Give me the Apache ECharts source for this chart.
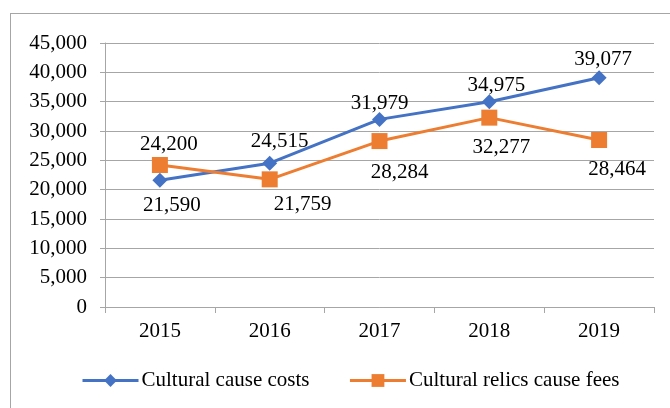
<!DOCTYPE html>
<html><head><meta charset="utf-8">
<script src="https://cdn.jsdelivr.net/npm/echarts@6/dist/echarts.min.js"></script>
<style>html,body{margin:0;padding:0;background:#fff}#c{width:670px;height:408px}
#box{position:absolute;left:10px;top:13px;width:670px;height:400px;border:1px solid #a6a6a6;pointer-events:none}</style>
</head><body><div id="c"></div><div id="box"></div>
<script>
const categories = ['2015','2016','2017','2018','2019'];
const costs = [21590, 24515, 31979, 34975, 39077];
const relics = [24200, 21759, 28284, 32277, 28464];
const costsLabelPos = ['bottom','top','top','top','top'];
const costsLabelOffset = [[12,3],[10,0],[0,6],[7,6],[4,4]];
const relicsLabelPos = ['top','bottom','bottom','bottom','bottom'];
const relicsLabelOffset = [[9,2],[33,3],[20,9],[12,7],[18,7]];
const font = 'Liberation Serif, Times New Roman, serif';
const fmt = v => v.toLocaleString('en-US');
const chart = echarts.init(document.getElementById('c'));
chart.setOption({
  animation:false,
  grid:{left:105,right:16,top:43,bottom:101},
  legend:{bottom:12,left:76,itemWidth:56,itemHeight:16,itemGap:39,
    lineStyle:{width:3},
    textStyle:{fontFamily:font,fontSize:21,color:'#000',padding:[0,0,0,-2]},
    data:['Cultural cause costs','Cultural relics cause fees']},
  xAxis:{type:'category',data:categories,boundaryGap:true,
    axisLine:{lineStyle:{color:'#a6a6a6',width:1}},
    axisTick:{show:true,length:6,lineStyle:{color:'#a6a6a6'}},
    axisLabel:{fontFamily:font,fontSize:21,color:'#000',margin:14}},
  yAxis:{type:'value',min:0,max:45000,interval:5000,
    axisLine:{show:true,lineStyle:{color:'#a6a6a6'}},
    axisTick:{show:true,length:5,inside:false,lineStyle:{color:'#a6a6a6'}},
    splitLine:{lineStyle:{color:'#a6a6a6',width:1}},
    axisLabel:{fontFamily:font,fontSize:21,color:'#000',margin:18,formatter:v=>fmt(v)}},
  series:[
    {name:'Cultural cause costs',type:'line',data:costs.map((v,i)=>({value:v,label:{position:costsLabelPos[i],offset:costsLabelOffset[i]}})),
     symbol:'diamond',symbolSize:15,color:'#4472C4',lineStyle:{width:3,color:'#4472C4'},
     itemStyle:{color:'#4472C4'},
     label:{show:true,fontFamily:font,fontSize:21,color:'#000',distance:4,formatter:p=>fmt(p.value)}},
    {name:'Cultural relics cause fees',type:'line',data:relics.map((v,i)=>({value:v,label:{position:relicsLabelPos[i],offset:relicsLabelOffset[i]}})),
     symbol:'rect',symbolSize:16,color:'#ED7D31',lineStyle:{width:3,color:'#ED7D31'},
     itemStyle:{color:'#ED7D31'},
     label:{show:true,fontFamily:font,fontSize:21,color:'#000',distance:4,formatter:p=>fmt(p.value)}}
  ]
});
</script></body></html>
